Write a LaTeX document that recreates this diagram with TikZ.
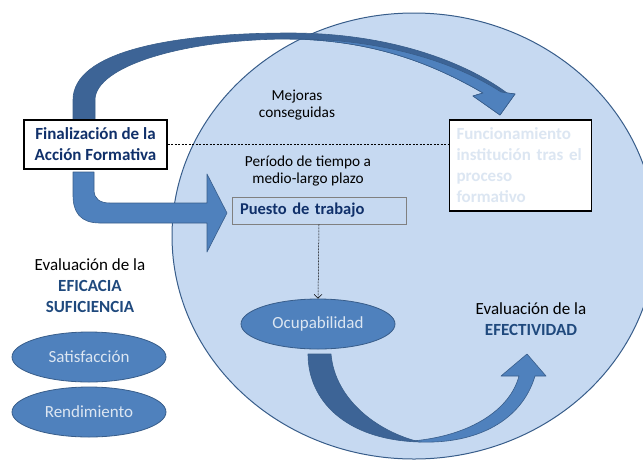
\documentclass[tikz,border=0pt]{standalone}
\usepackage{fontspec}
\setmainfont{Carlito}
\usetikzlibrary{positioning, shapes.geometric, arrows.meta}

\definecolor{bgblue}{HTML}{C6D9F1}
\definecolor{midblue}{HTML}{4F81BD}
\definecolor{darkblue}{HTML}{3D6496}
\definecolor{edgeblue}{HTML}{385D8A}
\definecolor{navy}{HTML}{10306A}
\definecolor{titleblue}{HTML}{1F497D}
\definecolor{paleblue}{HTML}{DCE6F2}

\tikzset{
  framebox/.style={draw=black, line width=1.2pt, fill=white, font=\bfseries\fontsize{17}{21}\selectfont},
  oval/.style={ellipse, draw=edgeblue, fill=midblue, line width=0.8pt, minimum width=154pt, minimum height=50pt, inner sep=0pt, text=paleblue, font=\fontsize{17}{20}\selectfont},
  note/.style={align=center, font=\fontsize{15.3}{17.5}\selectfont},
  evaltext/.style={align=center, font=\fontsize{17}{21}\selectfont},
  bigarrow/.style={draw=edgeblue, line width=0.6pt, line join=round}
}

\begin{document}
\begin{tikzpicture}[x=1pt, y=-1pt]
  \useasboundingbox (0,0) rectangle (643,459);
  \clip (0,0) rectangle (643,459);

  % zona de la efectividad
  \draw[edgeblue, fill=bgblue, line width=1pt] (414,236) ellipse [x radius=242, y radius=223];

  % flecha superior
  \filldraw[bigarrow, fill=darkblue] (73,120) -- (73,100) .. controls (73,52) and (170,33) .. (290,33)
    .. controls (390,33) and (465,62) .. (507,93) -- (515,94) -- (500,115) -- (473,96) -- (483,93)
    .. controls (430,62) and (370,40) .. (290,39) .. controls (185,39) and (95,66) .. (95,100) -- (95,120) -- cycle;
  \filldraw[bigarrow, fill=midblue] (290,39) .. controls (380,38) and (455,62) .. (501,92) -- (515,94) -- (500,115)
    -- (473,96) -- (483,93) .. controls (430,62) and (370,40) .. (290,39) -- cycle;

  % flecha hacia el puesto de trabajo
  \filldraw[bigarrow, fill=midblue] (73,172) -- (73,195) .. controls (73,212) and (80,223) .. (100,223) -- (207,223)
    -- (207,252) -- (227,213) -- (207,174) -- (207,203) -- (110,203) .. controls (100,203) and (94,199) .. (94,190)
    -- (94,172) -- cycle;

  % flecha inferior
  \filldraw[bigarrow, fill=darkblue] (308,354) .. controls (308,400) and (345,440) .. (420,442)
    .. controls (378,432) and (335,400) .. (331,354) -- cycle;
  \filldraw[bigarrow, fill=midblue] (412,441) .. controls (470,436) and (510,410) .. (519,376) -- (501,376) -- (527,354)
    -- (546,376) -- (535,376) .. controls (522,420) and (478,444) .. (420,442) -- cycle;

  % cajas
  \node[framebox, text=navy, align=center, minimum width=143pt, minimum height=49pt, inner sep=2pt] (fin) at (95.5,144.5)
    {Finalización de la\\Acción Formativa};
  \node[framebox, text=paleblue, align=left, text width=128pt, inner xsep=7pt, minimum height=91pt] (func) at (520.5,165.5)
    {Funcionamiento\\institución tras el\\proceso\\formativo};
  \node[draw=gray, line width=0.7pt, text=navy, align=left, text width=158pt, inner xsep=8pt, minimum height=27pt,
    font=\bfseries\fontsize{16.5}{18}\selectfont] (puesto) at (319,210.5) {Puesto de trabajo};

  \node[note] (mejoras) at (297,105) {Mejoras\\conseguidas};
  \node[note] (periodo) at (308,171) {Período de tiempo a\\medio-largo plazo};

  % elipses
  \node[oval] (ocup) at (318,324) {Ocupabilidad};
  \node[oval] (satis) at (89,357) {Satisfacción};
  \node[oval] (rend) at (89,412) {Rendimiento};

  \node[evaltext] (evalizq) at (90,286)
    {Evaluación de la\\\textcolor{titleblue}{\textbf{EFICACIA}}\\\textcolor{titleblue}{\textbf{SUFICIENCIA}}};
  \node[evaltext] (evalder) at (531,319.5)
    {Evaluación de la\\\textcolor{titleblue}{\textbf{EFECTIVIDAD}}};

  % conectores
  \draw[dash pattern=on 2pt off 1.5pt, line width=0.5pt] (fin.east) -- (fin.east -| func.west);
  \draw[dash pattern=on 2pt off 1pt, line width=0.5pt, -{Straight Barb[length=4pt]}] (puesto.south) -- (ocup.north);
\end{tikzpicture}
\end{document}
